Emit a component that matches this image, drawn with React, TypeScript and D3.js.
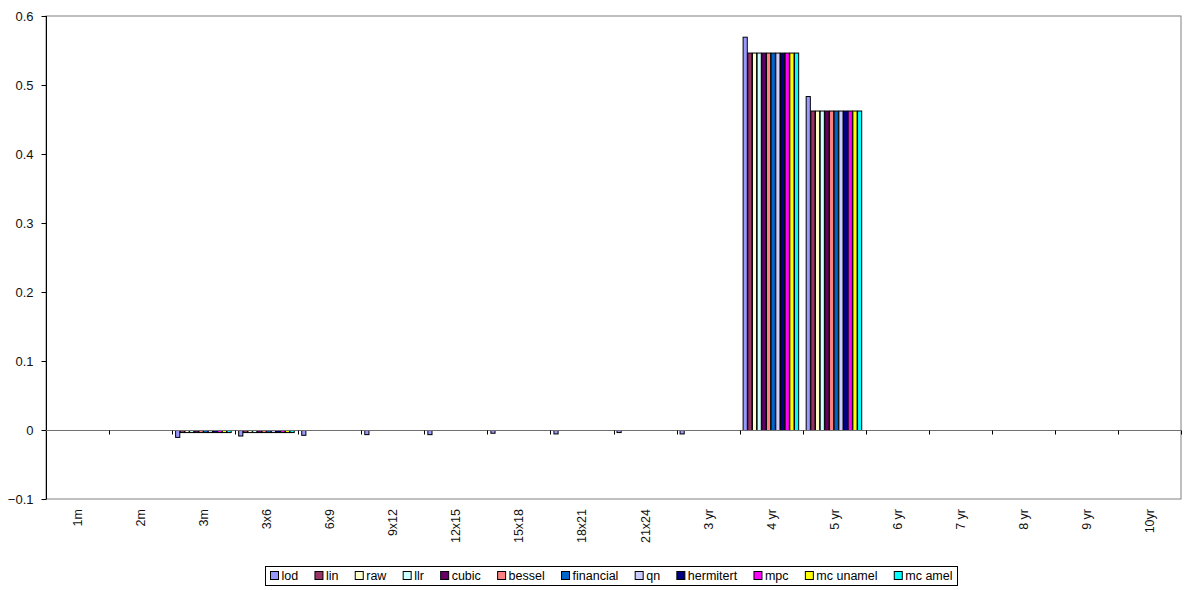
import React, { useEffect, useRef } from "react";
import * as d3 from "d3";

const categories = ["1m", "2m", "3m", "3x6", "6x9", "9x12", "12x15", "15x18", "18x21", "21x24", "3 yr", "4 yr", "5 yr", "6 yr", "7 yr", "8 yr", "9 yr", "10yr"];
const seriesNames = ["lod", "lin", "raw", "llr", "cubic", "bessel", "financial", "qn", "hermitert", "mpc", "mc unamel", "mc amel"];
const seriesColors = ["#9999FF", "#993366", "#FFFFCC", "#CCFFFF", "#660066", "#FF8080", "#0066CC", "#CCCCFF", "#000080", "#FF00FF", "#FFFF00", "#00FFFF"];

// lod series values per category
const lodValues = [0, 0, -0.010, -0.008, -0.007, -0.006, -0.006, -0.004, -0.005, -0.003, -0.005, 0.570, 0.484, 0, 0, 0, 0, 0];
// all other methods share nearly identical values per category
const otherValues = [0, 0, -0.003, -0.003, 0, 0, 0, 0, 0, 0, 0, 0.547, 0.463, 0, 0, 0, 0, 0];
const yTicks = [-0.1, 0, 0.1, 0.2, 0.3, 0.4, 0.5, 0.6];

const W = 1185, H = 590;
const M = { left: 46, right: 1181, top: 16, bottom: 499 };

export default function App() {
  const ref = useRef<SVGSVGElement>(null);
  useEffect(() => {
    document.body.style.margin = "0";
    const svg = d3.select(ref.current);
    svg.selectAll("*").remove();
    const font = "'Liberation Sans', Arial, sans-serif";

    const x0 = d3.scaleBand().domain(categories).range([M.left, M.right]).padding(0);
    const bw = x0.bandwidth();
    const x1 = d3.scaleBand().domain(seriesNames).range([3, bw - 4]).padding(0);
    const y = d3.scaleLinear().domain([-0.1, 0.6]).range([M.bottom, M.top]);

    svg.append("rect").attr("width", W).attr("height", H).attr("fill", "#fff");

    // plot frame
    svg.append("rect")
      .attr("x", M.left).attr("y", M.top)
      .attr("width", M.right - M.left).attr("height", M.bottom - M.top)
      .attr("fill", "#fff").attr("stroke", "#808080").attr("stroke-width", 1);

    // bars
    const data: { cat: string; s: string; v: number; c: string }[] = [];
    categories.forEach((cat, i) => {
      seriesNames.forEach((s, j) => {
        const v = j === 0 ? lodValues[i] : otherValues[i];
        if (v !== 0) data.push({ cat, s, v, c: seriesColors[j] });
      });
    });
    svg.append("g").selectAll("rect").data(data).join("rect")
      .attr("x", d => (x0(d.cat) as number) + (x1(d.s) as number) + 0.5)
      .attr("y", d => Math.min(y(d.v), y(0)) + 0.5)
      .attr("width", x1.bandwidth() - 0.5)
      .attr("height", d => Math.max(0.5, Math.abs(y(d.v) - y(0))))
      .attr("fill", d => d.c)
      .attr("stroke", "#000").attr("stroke-width", 1);

    // y axis
    const ya = svg.append("g").attr("transform", `translate(${M.left + 0.5},0)`)
      .call(d3.axisLeft(y).tickValues(yTicks).tickSize(5).tickPadding(8)
        .tickFormat(d => (+d === 0 ? "0" : d3.format(".1f")(+d))));
    ya.select(".domain").attr("stroke", "#000").attr("d", `M0,${M.top}V${M.bottom}`);
    ya.selectAll(".tick line").attr("stroke", "#000");
    ya.selectAll("text").attr("font-family", font).attr("font-size", 13).attr("fill", "#111");

    // x axis at zero
    const yz = Math.round(y(0)) + 0.5;
    svg.append("line").attr("x1", M.left).attr("x2", M.right).attr("y1", yz).attr("y2", yz)
      .attr("stroke", "#707070").attr("stroke-width", 1.2);
    svg.append("g").selectAll("line").data(categories.slice(1).concat(["__end"])).join("line")
      .attr("x1", (d, i) => Math.round(M.left + (i + 1) * bw) + 0.5)
      .attr("x2", (d, i) => Math.round(M.left + (i + 1) * bw) + 0.5)
      .attr("y1", yz).attr("y2", yz + 4)
      .attr("stroke", "#000");

    // x labels
    svg.append("g").selectAll("text").data(categories).join("text")
      .attr("transform", d => `translate(${(x0(d) as number) + bw / 2 + 4.5},509) rotate(-90)`)
      .attr("text-anchor", "end")
      .attr("font-family", font).attr("font-size", 12.5).attr("fill", "#111")
      .text(d => d);

    // legend
    const lg = svg.append("g");
    const items = lg.selectAll("g").data(seriesNames).join("g");
    items.append("rect").attr("width", 8).attr("height", 8)
      .attr("fill", (d, i) => seriesColors[i]).attr("stroke", "#000").attr("stroke-width", 1);
    const texts = items.append("text").attr("x", 11).attr("y", 8.5)
      .attr("font-family", font).attr("font-size", 12.5).attr("fill", "#000").text(d => d);
    const widths: number[] = [];
    texts.each(function () { widths.push((this as SVGTextElement).getComputedTextLength()); });
    const boxL = 265, boxR = 957, pad = 5;
    const sum = widths.reduce((a, w) => a + 11 + w, 0);
    const gap = (boxR - boxL - 2 * pad - sum) / (seriesNames.length - 1);
    const offs: number[] = [];
    let acc = 0;
    widths.forEach(w => { offs.push(acc); acc += 11 + w + gap; });
    items.attr("transform", (d, i) => `translate(${boxL + pad + offs[i] + 0.5},${571.5})`);
    lg.insert("rect", ":first-child")
      .attr("x", boxL + 0.5).attr("y", 566.5)
      .attr("width", boxR - boxL).attr("height", 19)
      .attr("fill", "#fff").attr("stroke", "#000").attr("stroke-width", 1);
  }, []);
  return <svg ref={ref} width={W} height={H} style={{ display: "block" }} />;
}
